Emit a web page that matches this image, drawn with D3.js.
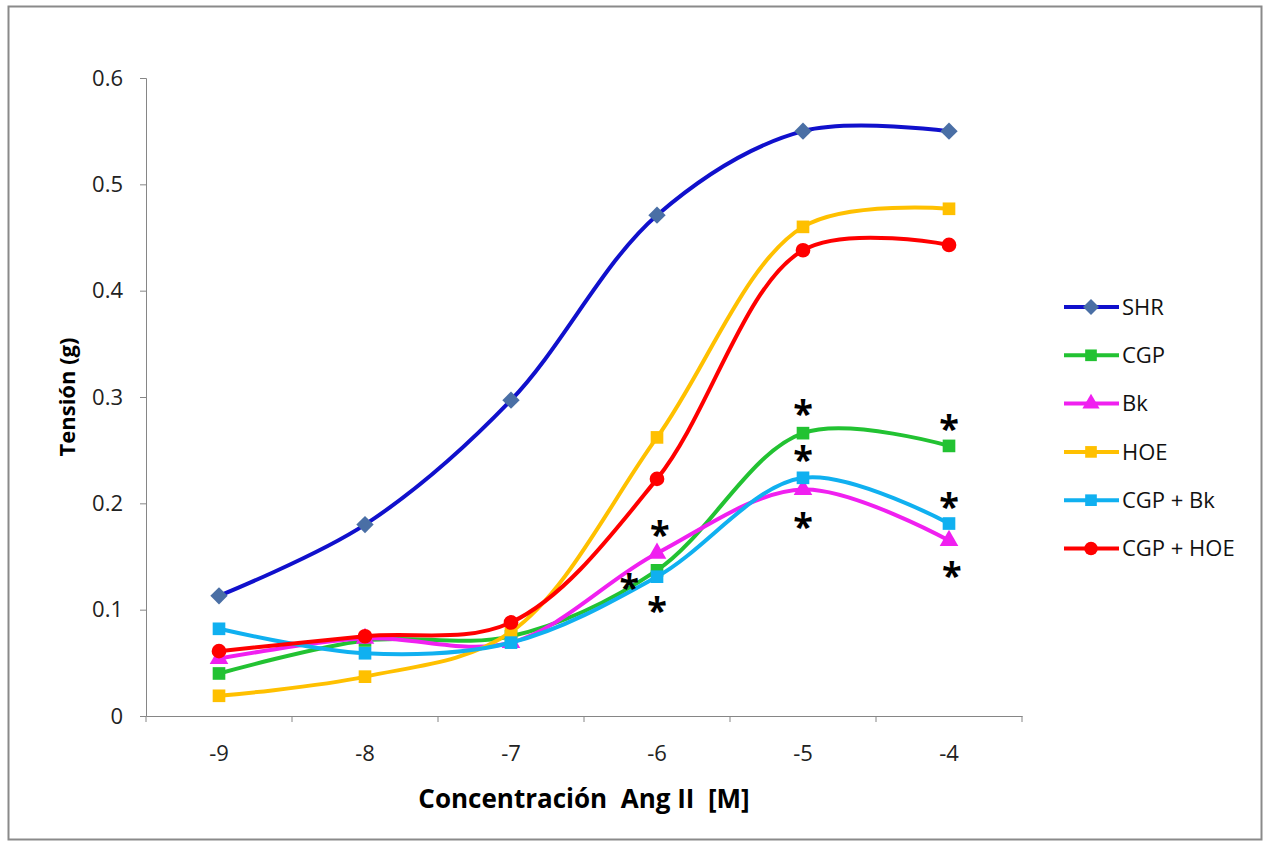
<!DOCTYPE html>
<html>
<head>
<meta charset="utf-8">
<script src="https://cdn.jsdelivr.net/npm/d3@7"></script>
<style>
  body { margin: 0; background: #fff; }
  text { font-family: "Open Sans", "Liberation Sans", sans-serif; }
</style>
</head>
<body>
<div id="wrapper"></div>
<script>
// data
const concentrations = ["-9", "-8", "-7", "-6", "-5", "-4"]
const yTicks = [0, 0.1, 0.2, 0.3, 0.4, 0.5, 0.6]

const seriesNames = ["SHR", "CGP", "Bk", "HOE", "CGP + Bk", "CGP + HOE"]
const shrValues    = [0.113, 0.180, 0.297, 0.471, 0.550, 0.550]
const cgpValues    = [0.040, 0.071, 0.075, 0.137, 0.266, 0.254]
const bkValues     = [0.054, 0.073, 0.069, 0.153, 0.213, 0.165]
const hoeValues    = [0.019, 0.037, 0.079, 0.262, 0.460, 0.477]
const cgpBkValues  = [0.082, 0.059, 0.069, 0.131, 0.224, 0.181]
const cgpHoeValues = [0.061, 0.075, 0.088, 0.223, 0.438, 0.443]

// significance marks: [category, offset within band, tension value]
const asterisks = [
  ["-6", -0.19, 0.125], ["-6", 0.02, 0.175], ["-6", 0, 0.103],
  ["-5", 0, 0.289], ["-5", 0, 0.245], ["-5", 0, 0.182],
  ["-4", 0, 0.275], ["-4", 0, 0.201], ["-4", 0.02, 0.136],
]

const styles = [
  {line: "#1010cc", marker: "#4a6fa5", symbol: d3.symbolSquare, size: 150, rotate: 45},
  {line: "#22c232", marker: "#22c232", symbol: d3.symbolSquare, size: 160, rotate: 0},
  {line: "#f020f0", marker: "#f020f0", symbol: d3.symbolTriangle, size: 150, rotate: 0},
  {line: "#ffc000", marker: "#ffc000", symbol: d3.symbolSquare, size: 160, rotate: 0},
  {line: "#10b0f0", marker: "#10b0f0", symbol: d3.symbolSquare, size: 160, rotate: 0},
  {line: "#ff0000", marker: "#ff0000", symbol: d3.symbolCircle, size: 170, rotate: 0},
]
const allValues = [shrValues, cgpValues, bkValues, hoeValues, cgpBkValues, cgpHoeValues]
const series = seriesNames.map((name, i) => ({name, values: allValues[i], ...styles[i]}))

const width = 1265, height = 843
const margin = {top: 78, left: 146, right: 243, bottom: 127}

const svg = d3.select("#wrapper").append("svg")
    .attr("width", width)
    .attr("height", height)

svg.append("rect")
    .attr("x", 8.5).attr("y", 6.5)
    .attr("width", 1253).attr("height", 833)
    .attr("fill", "#fff")
    .attr("stroke", "#8a8a8a")
    .attr("stroke-width", 2)

const x = d3.scaleBand()
    .domain(concentrations)
    .range([margin.left, width - margin.right])
const xc = d => x(d) + x.bandwidth() / 2

const y = d3.scaleLinear()
    .domain([0, 0.6])
    .range([height - margin.bottom, margin.top])

// axes
const yAxis = svg.append("g")
    .attr("transform", `translate(${margin.left},0)`)
    .call(d3.axisLeft(y).tickValues(yTicks).tickSize(6).tickPadding(17).tickFormat(d => d === 0 ? "0" : d3.format(".1f")(d)))
yAxis.select(".domain").attr("stroke", "#868686")
yAxis.selectAll(".tick line").attr("stroke", "#868686")
yAxis.selectAll(".tick text").attr("font-size", 22).attr("fill", "#222")

const xAxis = svg.append("g")
    .attr("transform", `translate(0,${y(0)})`)
    .call(d3.axisBottom(x).tickSize(0).tickPadding(29))
xAxis.select(".domain").attr("stroke", "#868686")
xAxis.selectAll(".tick text").attr("font-size", 22).attr("fill", "#222")
xAxis.selectAll(".sep")
  .data(concentrations.concat(["end"]))
  .enter().append("line")
    .attr("x1", (d, i) => margin.left + i * x.bandwidth())
    .attr("x2", (d, i) => margin.left + i * x.bandwidth())
    .attr("y1", 0).attr("y2", 6)
    .attr("stroke", "#868686")

svg.append("text")
    .attr("transform", `translate(75,${(y(0) + y(0.6)) / 2}) rotate(-90)`)
    .attr("text-anchor", "middle")
    .attr("font-size", 22)
    .attr("font-weight", "bold")
    .text("Tensión (g)")

svg.append("text")
    .attr("x", (margin.left + width - margin.right) / 2)
    .attr("y", 808)
    .attr("text-anchor", "middle")
    .attr("font-size", 26)
    .attr("font-weight", "bold")
    .text("Concentración\u00a0 Ang II\u00a0 [M]")

// lines
const line = d3.line()
    .x((d, i) => xc(concentrations[i]))
    .y(d => y(d))
    .curve(d3.curveCatmullRom.alpha(0.5))

const groups = svg.selectAll(".series")
  .data(series)
  .enter().append("g")
    .attr("class", "series")

groups.append("path")
    .attr("d", d => line(d.values))
    .attr("fill", "none")
    .attr("stroke", d => d.line)
    .attr("stroke-width", 4)

groups.selectAll(".marker")
  .data(d => d.values.map((v, i) => ({v, i, s: d})))
  .enter().append("path")
    .attr("transform", d => `translate(${xc(concentrations[d.i])},${y(d.v)}) rotate(${d.s.rotate})`)
    .attr("d", d => d3.symbol(d.s.symbol, d.s.size)())
    .attr("fill", d => d.s.marker)

// asterisks
svg.selectAll(".star")
  .data(asterisks)
  .enter().append("text")
    .attr("x", d => xc(d[0]) + d[1] * x.bandwidth())
    .attr("y", d => y(d[2]) + 17)
    .attr("text-anchor", "middle")
    .attr("font-size", 36)
    .attr("font-weight", "bold")
    .attr("font-family", "Liberation Sans, sans-serif")
    .text("*")

// legend
const legend = svg.selectAll(".legend")
  .data(series)
  .enter().append("g")
    .attr("transform", (d, i) => `translate(1064,${307 + i * 48.3})`)
legend.append("line")
    .attr("x1", 0).attr("x2", 55)
    .attr("stroke", d => d.line)
    .attr("stroke-width", 4)
legend.append("path")
    .attr("transform", d => `translate(27,0) rotate(${d.rotate})`)
    .attr("d", d => d3.symbol(d.symbol, d.size * 0.85)())
    .attr("fill", d => d.marker)
legend.append("text")
    .attr("x", 58)
    .attr("dy", "0.35em")
    .attr("font-size", 22)
    .attr("fill", "#111")
    .text(d => d.name)
</script>
</body>
</html>
